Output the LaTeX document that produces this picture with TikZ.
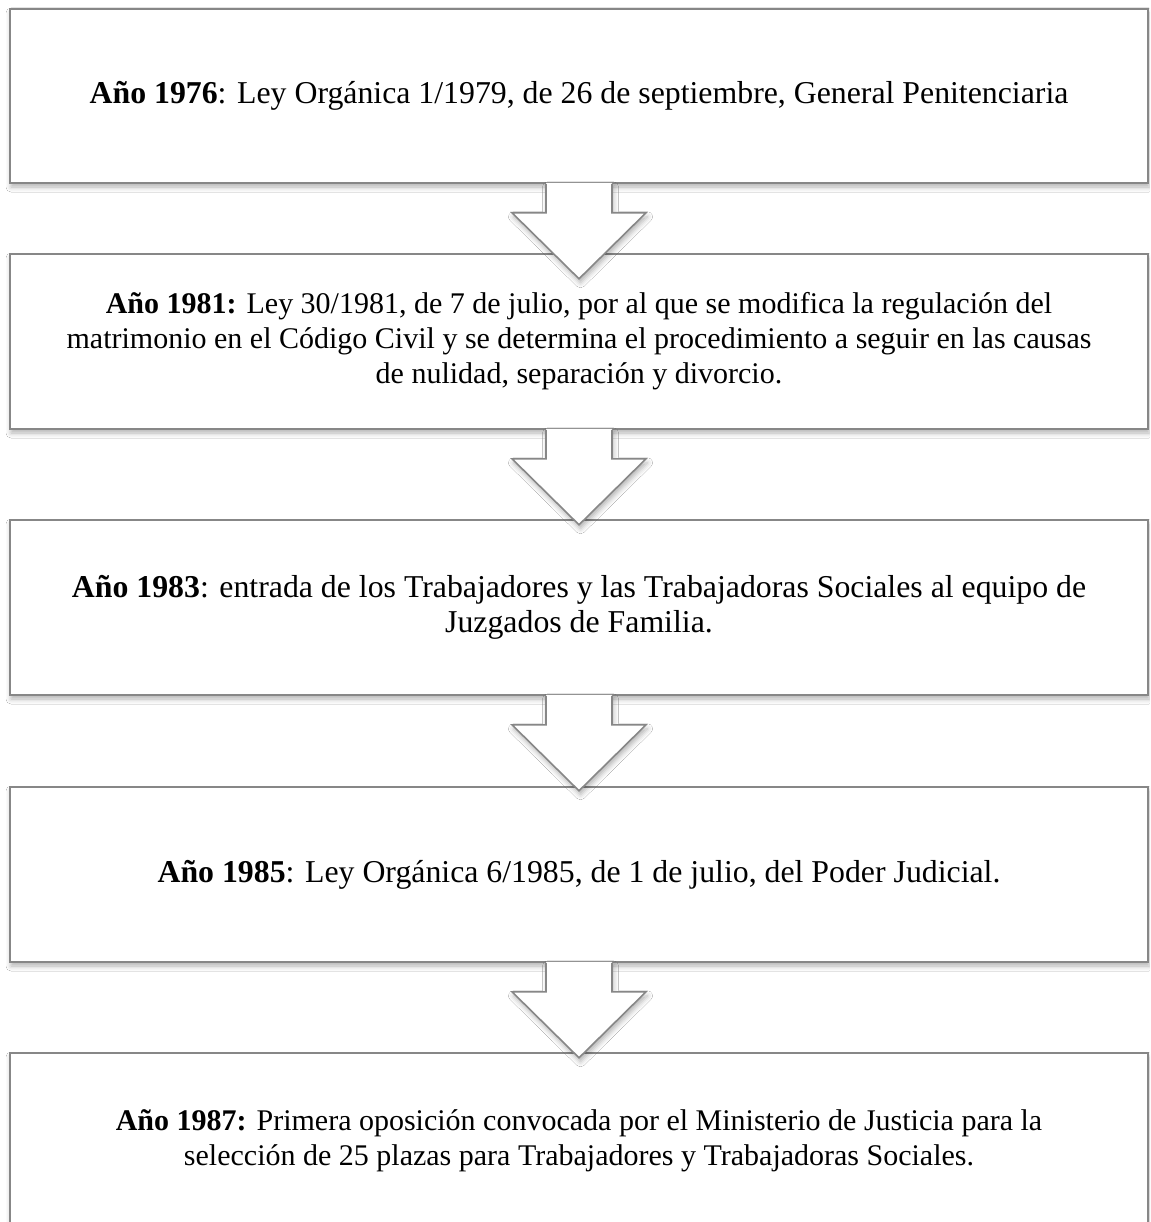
\documentclass[tikz,border=0pt]{standalone}
\usepackage{fontspec}
\setmainfont{Liberation Serif}
\usetikzlibrary{calc,shadows.blur}
\definecolor{edgegray}{RGB}{135,135,135}
\tikzset{
  x=1pt,y=-1pt,
  stagebox/.style={draw=edgegray,line width=1.6pt,fill=white,
    minimum width=1138pt,minimum height=175pt,inner sep=0pt,
    align=center,font=\fontsize{30pt}{35pt}\selectfont,
    blur shadow={shadow xshift=1pt,shadow yshift=-4pt,shadow blur radius=5pt,shadow opacity=30}},
  bigtext/.style={font=\fontsize{31.8pt}{35pt}\selectfont},
  arrowfill/.style={fill=white,
    blur shadow={shadow xshift=1.5pt,shadow yshift=-4pt,shadow blur radius=5pt,shadow opacity=30}},
  arrowline/.style={draw=edgegray,line width=1.6pt,line join=miter}
}
\newcommand{\downarrowshape}[1]{%
  \path[arrowfill] ($(#1.south)+(-33,-1)$) -- ++(0,30) -- ++(-34,0) -- ($(#1.south)+(0,95)$)
     -- ($(#1.south)+(67,29)$) -- ++(-34,0) -- ++(0,-30) -- cycle;
  \draw[arrowline] ($(#1.south)+(-33,0)$) -- ++(0,29) -- ++(-34,0) -- ($(#1.south)+(0,95)$)
     -- ($(#1.south)+(67,29)$) -- ++(-34,0) -- ++(0,-29);
}
\begin{document}
\begin{tikzpicture}
\useasboundingbox (0,0) rectangle (1150,1222);
\clip (0,0) rectangle (1150,1222);
\fill[white] (0,0) rectangle (1150,1222);
\node[stagebox,bigtext,minimum height=174pt] (b1) at (579,96) {\textbf{Año 1976}: Ley Orgánica 1/1979, de 26 de septiembre, General Penitenciaria};
\node[stagebox] (b2) at (579,341.5) {\textbf{Año 1981:} Ley 30/1981, de 7 de julio, por al que se modifica la regulación del\\ matrimonio en el Código Civil y se determina el procedimiento a seguir en las causas\\ de nulidad, separación y divorcio.};
\node[stagebox,bigtext] (b3) at (579,607.5) {\textbf{Año 1983}: entrada de los Trabajadores y las Trabajadoras Sociales al equipo de\\ Juzgados de Familia.};
\node[stagebox,bigtext] (b4) at (579,874.5) {\textbf{Año 1985}: Ley Orgánica 6/1985, de 1 de julio, del Poder Judicial.};
\node[stagebox] (b5) at (579,1140.5) {\textbf{Año 1987:} Primera oposición convocada por el Ministerio de Justicia para la\\ selección de 25 plazas para Trabajadores y Trabajadoras Sociales.};
\downarrowshape{b1}
\downarrowshape{b2}
\downarrowshape{b3}
\downarrowshape{b4}
\end{tikzpicture}
\end{document}
